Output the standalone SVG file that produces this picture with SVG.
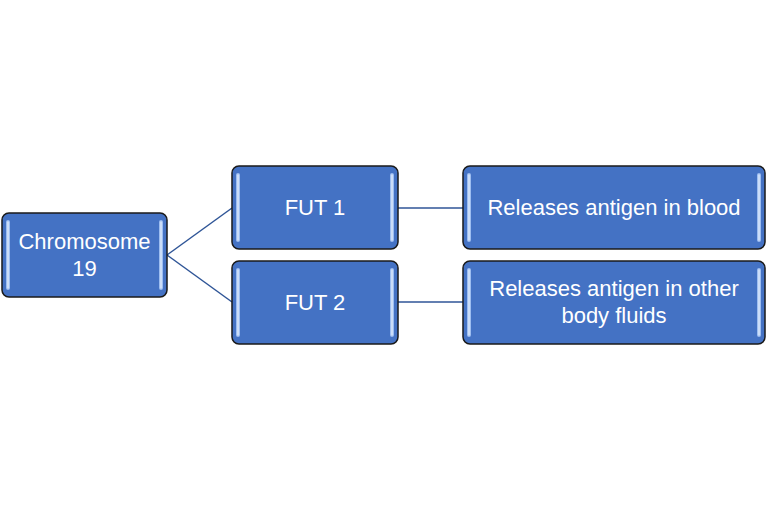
<svg xmlns="http://www.w3.org/2000/svg" width="768" height="512" viewBox="0 0 768 512">
<style>
.box{fill:#4472C4;stroke:#1a1a1a;stroke-width:1.5}
.hl{stroke:#9dbdf0;stroke-width:4;stroke-linecap:round}
.hl2{stroke:#dbe8fb;stroke-width:1.5;stroke-linecap:round}
.t{fill:#ffffff;font-family:"Liberation Sans",Arial,sans-serif;font-size:22px;text-anchor:middle}
.c{stroke:#2F5597;stroke-width:1.5;fill:none}
</style>
<rect width="768" height="512" fill="#ffffff"/>
<g id="connectors">
<line class="c" x1="167" y1="255" x2="232" y2="208"/>
<line class="c" x1="167" y1="255" x2="232" y2="302"/>
<line class="c" x1="398" y1="208" x2="463" y2="208"/>
<line class="c" x1="398" y1="302" x2="463" y2="302"/>
</g>
<g id="chromosome19">
<rect class="box" x="2" y="213" width="165" height="84" rx="7"/>
<line class="hl" x1="8" y1="222" x2="8" y2="288"/><line class="hl2" x1="8" y1="222" x2="8" y2="288"/>
<line class="hl" x1="161" y1="222" x2="161" y2="288"/><line class="hl2" x1="161" y1="222" x2="161" y2="288"/>
<text class="t" x="84.5" y="249">Chromosome</text>
<text class="t" x="84.5" y="276">19</text>
</g>
<g id="fut1">
<rect class="box" x="232" y="166" width="166" height="83" rx="7"/>
<line class="hl" x1="238" y1="175" x2="238" y2="240"/><line class="hl2" x1="238" y1="175" x2="238" y2="240"/>
<line class="hl" x1="392" y1="175" x2="392" y2="240"/><line class="hl2" x1="392" y1="175" x2="392" y2="240"/>
<text class="t" x="315" y="215">FUT 1</text>
</g>
<g id="fut2">
<rect class="box" x="232" y="261" width="166" height="83" rx="7"/>
<line class="hl" x1="238" y1="270" x2="238" y2="335"/><line class="hl2" x1="238" y1="270" x2="238" y2="335"/>
<line class="hl" x1="392" y1="270" x2="392" y2="335"/><line class="hl2" x1="392" y1="270" x2="392" y2="335"/>
<text class="t" x="315" y="310">FUT 2</text>
</g>
<g id="blood">
<rect class="box" x="463" y="166" width="302" height="83" rx="7"/>
<line class="hl" x1="469" y1="175" x2="469" y2="240"/><line class="hl2" x1="469" y1="175" x2="469" y2="240"/>
<line class="hl" x1="759" y1="175" x2="759" y2="240"/><line class="hl2" x1="759" y1="175" x2="759" y2="240"/>
<text class="t" x="614" y="215">Releases antigen in blood</text>
</g>
<g id="fluids">
<rect class="box" x="463" y="261" width="302" height="83" rx="7"/>
<line class="hl" x1="469" y1="270" x2="469" y2="335"/><line class="hl2" x1="469" y1="270" x2="469" y2="335"/>
<line class="hl" x1="759" y1="270" x2="759" y2="335"/><line class="hl2" x1="759" y1="270" x2="759" y2="335"/>
<text class="t" x="614" y="296">Releases antigen in other</text>
<text class="t" x="614" y="323">body fluids</text>
</g>
</svg>
